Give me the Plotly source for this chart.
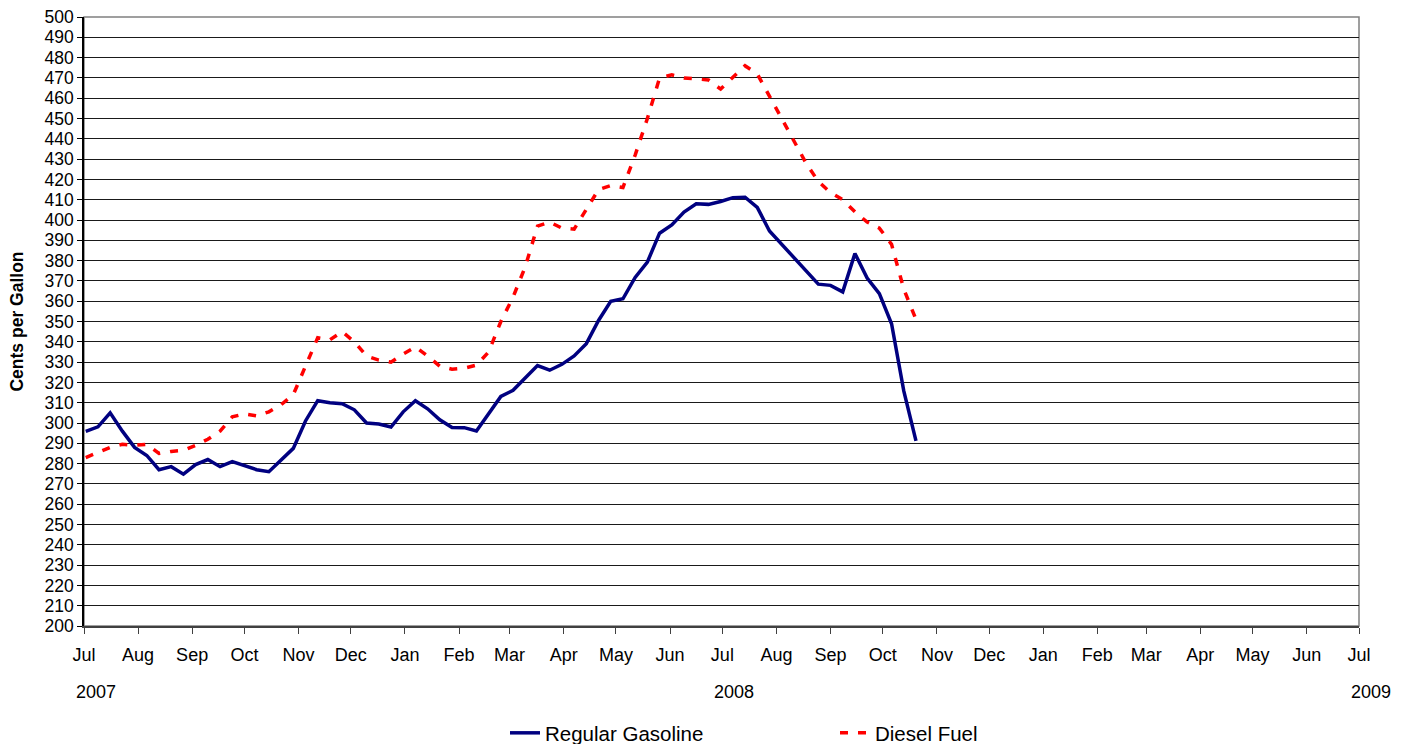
import pandas as pd
import plotly.graph_objects as go

# Weekly observation dates (Mondays), Jul 2 2007 .. Oct 20 2008
week_start = "2007-07-02"
n_weeks = 69
dates = pd.date_range(week_start, periods=n_weeks, freq="7D")

gasoline = [
    295.9, 298.1, 305.0, 296.0, 288.0, 284.0, 277.0, 278.5, 274.8, 279.5,
    282.0, 278.5, 281.0, 279.0, 277.0, 276.0, 282.0, 287.5, 301.0, 311.0,
    310.0, 309.5, 306.5, 300.0, 299.5, 298.0, 305.5, 311.0, 307.0, 301.6,
    297.8, 297.7, 296.1, 304.3, 313.1, 316.1, 322.4, 328.3, 326.0, 328.9,
    333.0, 339.1, 350.5, 359.9, 361.2, 371.7, 379.3, 393.5, 397.6, 403.9,
    408.0, 407.7, 409.1, 411.0, 411.2, 406.2, 394.6, 388.1, 381.5, 374.8,
    368.4, 367.8, 364.6, 383.5, 371.4, 363.7, 348.9, 315.8, 291.2,
]

diesel = [
    283.0, 285.5, 288.0, 289.5, 289.0, 289.5, 285.0, 286.0, 286.5, 289.0,
    292.0, 296.0, 303.0, 304.5, 303.5, 305.5, 309.0, 314.0, 328.0, 342.0,
    341.0, 345.0, 340.0, 333.0, 331.0, 330.0, 334.0, 337.5, 333.0, 328.0,
    326.5, 327.0, 328.5, 335.0, 350.0, 362.0, 377.0, 397.0, 399.0, 396.0,
    395.5, 405.0, 415.0, 417.0, 416.0, 432.0, 450.0, 470.0, 471.5, 470.0,
    469.5, 469.0, 464.5, 470.0, 476.0, 472.0, 461.0, 450.0, 439.0, 428.0,
    419.0, 413.5, 410.0, 404.0, 399.0, 396.0, 388.0, 366.0, 351.0,
]

month_ticks = pd.date_range("2007-07-01", "2009-07-01", freq="MS")
month_labels = [d.strftime("%b") for d in month_ticks]
year_labels = ["2007", "2008", "2009"]
year_positions = ["2007-07-01", "2008-07-01", "2009-07-01"]

FONT = "Liberation Sans, Arial, Helvetica, sans-serif"
PLOT_H = 744 - 17 - 118

fig = go.Figure()
fig.add_trace(go.Scatter(
    x=dates, y=gasoline, mode="lines", name="Regular Gasoline",
    line=dict(color="#000080", width=3.5),
))
fig.add_trace(go.Scatter(
    x=dates, y=diesel, mode="lines", name="Diesel Fuel",
    line=dict(color="#FF0000", width=3.5, dash="8px,10px"),
))

for lab, pos in zip(year_labels, year_positions):
    fig.add_annotation(
        x=pos, y=-(692 - 626) / PLOT_H, xref="x", yref="paper", text=lab,
        showarrow=False, xanchor="center", yanchor="middle", xshift=12,
        font=dict(family=FONT, size=18, color="#000000"),
    )

# plot border (top / right)
fig.add_shape(type="rect", xref="paper", yref="paper", x0=0, x1=1, y0=0, y1=1,
              line=dict(color="#808080", width=1.5), layer="below")

fig.update_layout(
    width=1401, height=744,
    margin=dict(l=84, r=42, t=17, b=118, autoexpand=False),
    paper_bgcolor="white", plot_bgcolor="white",
    font=dict(family=FONT, size=18, color="#000000"),
    showlegend=True,
    legend=dict(
        orientation="h", x=(505 - 84) / 1275, xanchor="left",
        y=-(733 - 626) / PLOT_H, yanchor="middle",
        font=dict(family=FONT, size=20.5, color="#000000"),
        entrywidth=285, entrywidthmode="pixels",
        bgcolor="rgba(0,0,0,0)", tracegroupgap=0,
    ),
    xaxis=dict(
        type="date", range=["2007-07-01", "2009-07-01"],
        tickmode="array", tickvals=month_ticks, ticktext=month_labels,
        ticks="outside", ticklen=6, tickcolor="#404040", tickwidth=1,
        showgrid=False, zeroline=False, automargin=False,
        showline=True, linecolor="#404040", linewidth=1.5,
        ticklabelstandoff=6,
        tickfont=dict(family=FONT, size=18),
    ),
    yaxis=dict(
        range=[200, 500], dtick=10, tick0=200,
        ticks="outside", ticklen=5, tickcolor="#000000",
        showgrid=True, gridcolor="#1a1a1a", gridwidth=1,
        zeroline=False, automargin=False,
        showline=True, linecolor="#000000", linewidth=1.5,
        tickfont=dict(family=FONT, size=17.5),
        title=dict(text="<b>Cents per Gallon</b>", standoff=16,
                   font=dict(family=FONT, size=17.5)),
    ),
)

fig.write_html(
    "out.html",
    config={"displayModeBar": False},
    post_script="document.body.style.margin='0';document.body.style.overflow='hidden';",
)
